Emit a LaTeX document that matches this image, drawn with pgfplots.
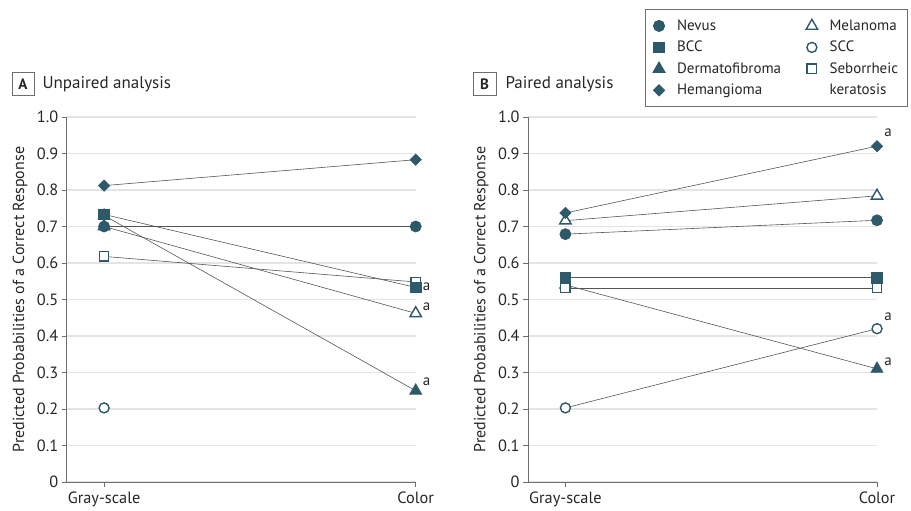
\documentclass[border=0pt]{standalone}
\usepackage{fontspec}
\setmainfont{PT Sans}
\usepackage{pgfplots}
\pgfplotsset{compat=1.18}
\definecolor{teal}{RGB}{46,89,106}
\definecolor{lin}{RGB}{85,85,85}
\definecolor{grd}{RGB}{228,228,228}
\definecolor{axl}{RGB}{110,110,110}
\newcommand\fs{\fontsize{15bp}{18bp}\selectfont}
\newcommand\ft{\fontsize{16.3bp}{19bp}\selectfont}
\pgfplotsset{
  panel/.style={
    scale only axis, width=349bp, height=365bp,
    xmin=-0.12, xmax=1.0, ymin=0, ymax=1.0,
    axis x line*=bottom, axis y line*=left,
    axis line style={axl, line width=0.8bp, -},
    xtick={0,1}, xticklabels={Gray-scale,Color},
    ytick={0,0.1,...,1.0},
    yticklabels={0,0.1,0.2,0.3,0.4,0.5,0.6,0.7,0.8,0.9,1.0},
    tick align=outside, major tick length=5bp,
    tick style={axl, line width=0.8bp},
    ticklabel style={font=\ft, text=black!85},
    xticklabel style={yshift=-1bp},
    ymajorgrids, grid style={grd, line width=1.2bp},
    clip=false,
    ylabel={Predicted Probabilities of a Correct Response},
    ylabel style={font=\fontsize{16bp}{19bp}\selectfont, text=black!85, at={(axis description cs:-0.134,0.5)}, anchor=center},
  },
  cl/.style={lin, line width=0.6bp},
  fcirc/.style={cl, mark=*, mark size=5.6bp, mark options={draw=teal, fill=teal, solid}},
  fsq/.style={cl, mark=square*, mark size=5.3bp, mark options={draw=teal, fill=teal, solid}},
  ftri/.style={cl, mark=triangle*, mark size=7bp, mark options={draw=teal, fill=teal, solid}},
  fdia/.style={cl, mark=square*, mark size=4bp, mark options={draw=teal, fill=teal, rotate=45, solid}},
  otri/.style={cl, mark=triangle*, mark size=6.6bp, mark options={draw=teal, fill=white, line width=1.4bp, solid}},
  ocirc/.style={cl, mark=*, mark size=5bp, mark options={draw=teal, fill=white, line width=1.4bp, solid}},
  osq/.style={cl, mark=square*, mark size=4.7bp, mark options={draw=teal, fill=white, line width=1.4bp, solid}},
}
\begin{document}
\begin{tikzpicture}[x=1bp,y=1bp]
\useasboundingbox (0,0) rectangle (911,511);
% Panel A
\begin{axis}[panel, at={(66.7bp,29bp)}, anchor=south west]
\addplot[otri] coordinates {(0,0.700) (1,0.462)};
\addplot[ftri] coordinates {(0,0.730) (1,0.250)};
\addplot[osq] coordinates {(0,0.618) (1,0.548)};
\addplot[fsq] coordinates {(0,0.733) (1,0.533)};
\addplot[ocirc] coordinates {(0,0.203)};
\addplot[fcirc] coordinates {(0,0.700) (1,0.700)};
\addplot[fdia] coordinates {(0,0.812) (1,0.883)};
\node[font=\fs, text=black!85] at (axis cs:1,0.535) [xshift=11bp] {a};
\node[font=\fs, text=black!85] at (axis cs:1,0.480) [xshift=11bp] {a};
\node[font=\fs, text=black!85] at (axis cs:1,0.275) [xshift=11bp] {a};
\end{axis}
% Panel B
\begin{axis}[panel, at={(528bp,29bp)}, anchor=south west,
  legend columns=4, transpose legend,
  legend cell align=left,
  legend style={at={(axis description cs:0.334,1.296)}, anchor=north west,
    draw=axl, line width=0.8bp, font=\fs, text=black!85,
    nodes={inner sep=1bp},
    inner xsep=8bp, inner ysep=9.5bp, row sep=7.3bp,
    /tikz/every odd column/.append style={column sep=11bp},
    /tikz/every even column/.append style={column sep=24bp}},
  ]
\addlegendimage{only marks, mark=*, mark size=5.6bp, mark options={draw=teal, fill=teal}}
\addlegendentry{Nevus}
\addlegendimage{only marks, mark=square*, mark size=5.3bp, mark options={draw=teal, fill=teal}}
\addlegendentry{BCC}
\addlegendimage{only marks, mark=triangle*, mark size=7bp, mark options={draw=teal, fill=teal}}
\addlegendentry{Dermatofibroma}
\addlegendimage{only marks, mark=square*, mark size=4bp, mark options={draw=teal, fill=teal, rotate=45}}
\addlegendentry{Hemangioma}
\addlegendimage{only marks, mark=triangle*, mark size=6.6bp, mark options={draw=teal, fill=white, line width=1.4bp}}
\addlegendentry{Melanoma}
\addlegendimage{only marks, mark=*, mark size=5bp, mark options={draw=teal, fill=white, line width=1.4bp}}
\addlegendentry{SCC}
\addlegendimage{only marks, mark=square*, mark size=4.7bp, mark options={draw=teal, fill=white, line width=1.4bp}}
\addlegendentry{\makebox[0pt][l]{\raisebox{-21.5bp}[0pt][0pt]{keratosis}}Seborrheic}
\addplot[ocirc, forget plot] coordinates {(0,0.203) (1,0.420)};
\addplot[ftri, forget plot] coordinates {(0,0.540) (1,0.310)};
\addplot[osq, forget plot] coordinates {(0,0.532) (1,0.532)};
\addplot[fsq, forget plot] coordinates {(0,0.560) (1,0.560)};
\addplot[fcirc, forget plot] coordinates {(0,0.679) (1,0.717)};
\addplot[otri, forget plot] coordinates {(0,0.716) (1,0.784)};
\addplot[fdia, forget plot] coordinates {(0,0.737) (1,0.920)};
\node[font=\fs, text=black!85] at (axis cs:1,0.957) [xshift=11bp] {a};
\node[font=\fs, text=black!85] at (axis cs:1,0.452) [xshift=11bp] {a};
\node[font=\fs, text=black!85] at (axis cs:1,0.330) [xshift=11bp] {a};
\end{axis}
% Panel titles
\node[draw=axl, line width=0.8bp, minimum width=22bp, minimum height=23bp, inner sep=0pt, font=\fs\bfseries, text=black!85] at (23,427) {A};
\node[anchor=west, font=\fontsize{17bp}{20bp}\selectfont, text=black!85] at (39,427) {Unpaired analysis};
\node[draw=axl, line width=0.8bp, minimum width=23bp, minimum height=23bp, inner sep=0pt, font=\fs\bfseries, text=black!85] at (484.5,427) {B};
\node[anchor=west, font=\fontsize{17bp}{20bp}\selectfont, text=black!85] at (502,427) {Paired analysis};
\end{tikzpicture}
\end{document}
